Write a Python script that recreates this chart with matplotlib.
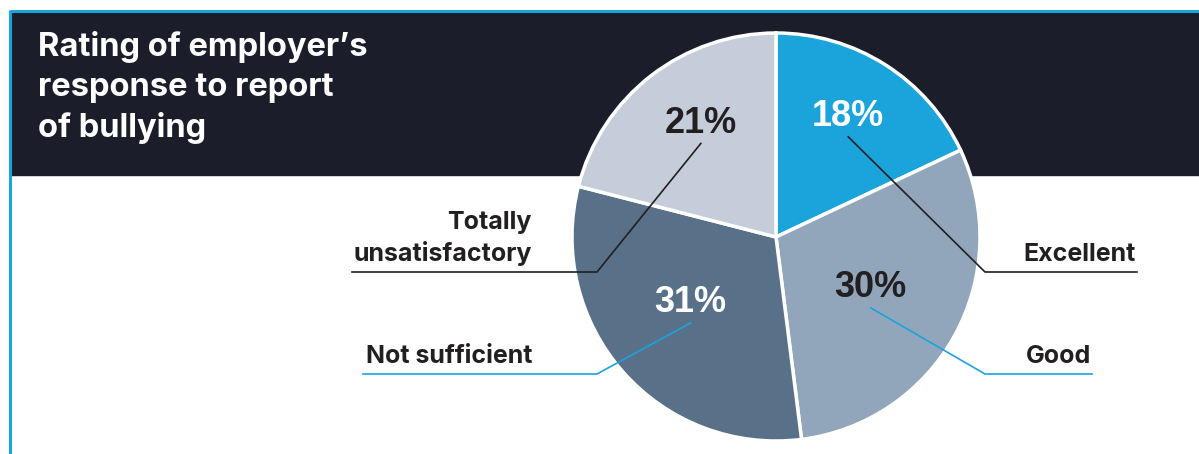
import matplotlib.pyplot as plt
import numpy as np

labels = ["Excellent", "Good", "Not sufficient", "Totally\nunsatisfactory"]
values = [18, 30, 31, 21]
colors = ["#1ba3dc", "#91a6bb", "#587189", "#c5cddb"]
pct_colors = ["white", "#231f20", "white", "#231f20"]

W, H = 1199, 454
dark = "#1c1d2a"
blue = "#1ba3dc"
ink = "#231f20"
plt.rcParams['font.family'] = ['Inter', 'Lato', 'DejaVu Sans']
pct_font = ['Liberation Sans Narrow', 'Liberation Sans', 'DejaVu Sans']


def Y(y):
    # image pixel row -> axes y
    return H - y


fig = plt.figure(figsize=(W / 100, H / 100), dpi=100)
ax = fig.add_axes([0, 0, 1, 1])

# header band and blue border
ax.add_patch(plt.Rectangle((11, Y(175)), W - 11, 164, color=dark, zorder=0))
ax.plot([10, 10], [Y(10), 0], color=blue, lw=2.2, zorder=1, solid_capstyle='butt')
ax.plot([10, W], [Y(10.5), Y(10.5)], color=blue, lw=2.2, zorder=1, solid_capstyle='butt')

cx, cy, R = 776, Y(237), 204
wedges, _ = ax.pie(values, colors=colors, startangle=90, counterclock=False,
                   center=(cx, cy), radius=R,
                   wedgeprops=dict(edgecolor='white', linewidth=2.5))
for w in wedges:
    w.set_zorder(2)

# percent labels (radius fraction, angle shift)
lab_r = [0.70, 0.52, 0.52, 0.68]
lab_shift = [2, 2, -5, -5]
pct_pos = []
for w, v, c, r, s in zip(wedges, values, pct_colors, lab_r, lab_shift):
    ang = np.deg2rad((w.theta1 + w.theta2) / 2 + s)
    tx, ty = cx + r * R * np.cos(ang), cy + r * R * np.sin(ang) - 3
    ax.text(tx, ty, f"{v}%", color=c, fontsize=26, fontweight='bold',
            family=pct_font, ha='center', va='center', zorder=4)
    pct_pos.append((tx, ty))

# leader lines: elbow point, end of horizontal rule, line colour
elbow = [(985, 272), (985, 374), (597, 374), (597, 272)]
rule_end = [1137, 1092, 363, 352]
line_col = [ink, blue, blue, ink]
for (sx, sy), (ex, ey), re, lc, lab in zip(pct_pos, elbow, rule_end, line_col, labels):
    ax.plot([sx, ex, re], [sy - 20, Y(ey), Y(ey)], color=lc, lw=1.2, zorder=3)
    tx = re - 1 if re > ex else 532
    ax.text(tx, Y(ey) + 11, lab, color=ink, fontsize=18, fontweight='bold',
            ha='right', va='baseline', linespacing=1.35)

ax.text(38, Y(31), "Rating of employer\u2019s\nresponse to report\nof bullying",
        color='white', fontsize=23.5, fontweight='bold', ha='left', va='top',
        linespacing=1.36, zorder=4)

ax.set_xlim(0, W)
ax.set_ylim(0, H)
ax.set_aspect('auto')
ax.axis('off')
fig.savefig("out.png", dpi=100, facecolor='white')
